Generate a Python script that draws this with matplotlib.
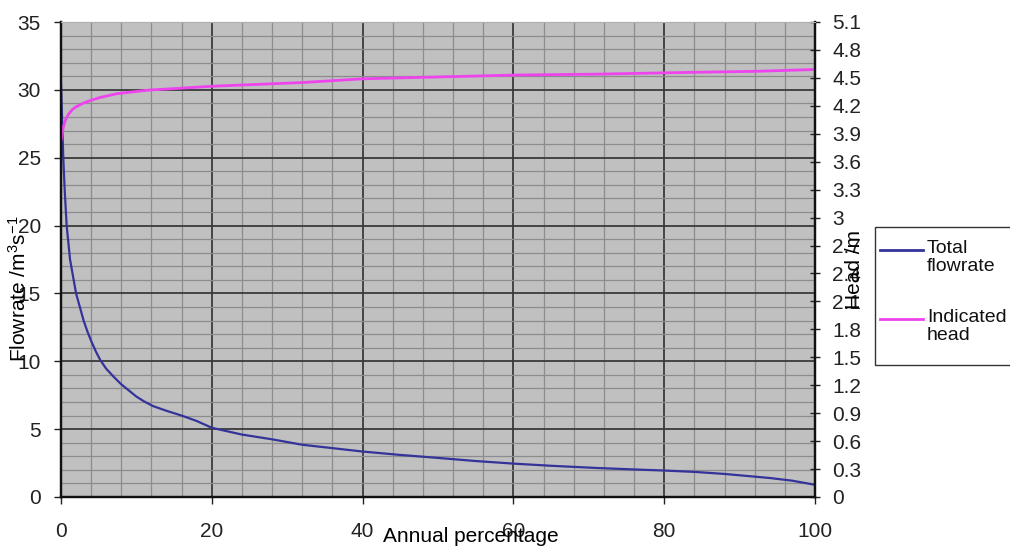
import matplotlib
matplotlib.use("Agg")
import matplotlib.pyplot as plt
import numpy as np
from matplotlib.ticker import MultipleLocator, FuncFormatter
from matplotlib.lines import Line2D
from matplotlib.patches import Rectangle

plt.rcParams['font.family'] = ['Liberation Sans', 'DejaVu Sans']
plt.rcParams['mathtext.default'] = 'regular'

# ---- data ----
flow_x = [0, 0.3, 0.5, 0.75, 1.2, 2, 2.5, 3, 3.5, 4, 4.6, 5.2, 6, 7, 8, 9, 10, 11,
          12.2, 14, 16, 18, 20, 24, 28, 32, 36, 40, 45, 50, 55, 60, 65, 71, 76, 80,
          84, 88, 91, 94, 97, 100]
flow_y = [30.5, 25, 22.5, 20, 17.5, 15, 14, 13, 12.2, 11.5, 10.75, 10.1, 9.45, 8.85, 8.3,
          7.85, 7.4, 7.05, 6.7, 6.35, 6.0, 5.6, 5.1, 4.6, 4.25, 3.85, 3.6, 3.35, 3.1,
          2.88, 2.65, 2.46, 2.3, 2.14, 2.03, 1.95, 1.85, 1.7, 1.55, 1.4, 1.2, 0.9]

head_x = [0, 0.3, 0.6, 1, 1.5, 2, 3, 4, 5.2, 7.4, 9.5, 11.8, 14, 16, 20, 26, 32, 40, 50,
          60, 71, 84, 92, 100]
head_y = [3.83, 3.97, 4.05, 4.11, 4.16, 4.19, 4.23, 4.26, 4.29, 4.33, 4.35, 4.37, 4.38,
          4.39, 4.41, 4.43, 4.45, 4.49, 4.51, 4.53, 4.54, 4.56, 4.57, 4.59]

left_ticks = np.arange(0, 36, 5)
right_ticks = np.round(np.arange(0, 5.11, 0.3), 1)
x_ticks = np.arange(0, 101, 20)

flow_color = '#33339a'
head_color = '#ee44ee'

fig = plt.figure(figsize=(10.10, 5.46), dpi=100)
ax = fig.add_axes([61/1010, 1-497/546, 754/1010, 475/546])
ax.set_facecolor('#c0c0c0')

ax.set_xlim(0, 100)
ax.set_ylim(0, 35)
ax.set_xticks(x_ticks)
ax.set_yticks(left_ticks)
ax.xaxis.set_minor_locator(MultipleLocator(4))
ax.yaxis.set_minor_locator(MultipleLocator(1))
ax.grid(which='major', color='#3a3a3a', linewidth=1.3)
ax.grid(which='minor', color='#8c8c8c', linewidth=0.9)
ax.set_axisbelow(True)
ax.tick_params(which='minor', length=0)
ax.tick_params(axis='both', which='major', labelsize=15, length=5, width=1, colors='#222222')
ax.tick_params(axis='x', pad=13)
ax.tick_params(axis='y', pad=9.5)

ax.plot(flow_x, flow_y, color=flow_color, linewidth=1.6)

ax2 = ax.twinx()
ax2.set_ylim(0, 5.1)
ax2.set_yticks(right_ticks)
ax2.yaxis.set_major_formatter(FuncFormatter(lambda v, p: '%g' % v))
ax2.tick_params(axis='y', labelsize=15, direction='inout', length=7, width=1, pad=9, colors='#222222')
ax2.plot(head_x, head_y, color=head_color, linewidth=2.0)

for a in (ax, ax2):
    for s in ('left', 'bottom', 'right'):
        a.spines[s].set_color('#111111')
        a.spines[s].set_linewidth(1.6)
    a.spines['top'].set_color('#b0b0b0')
    a.spines['top'].set_linewidth(0.8)

ax.set_xlabel('Annual percentage', fontsize=15)
ax.xaxis.set_label_coords(0.544, -0.084)
ax.xaxis.label.set_verticalalignment('center')

ax.set_ylabel('Flowrate /m$^3$s$^{-1}$', fontsize=15)
ax.yaxis.set_label_coords(-0.0565, 0.438)
ax.yaxis.label.set_verticalalignment('center')

ax2.set_ylabel('Head /m', fontsize=15, rotation=90)
ax2.yaxis.set_label_coords(1.052, 0.478)
ax2.yaxis.label.set_verticalalignment('center')

# legend drawn by hand: the line sits beside the first text row, as in Excel
W, H = 1010, 546
fig.patches.append(Rectangle((875/W, 1-365/H), 140/W, 138/H, transform=fig.transFigure,
                             facecolor='white', edgecolor='#333333', linewidth=1.0))
entries = [('Total\nflowrate', flow_color, 250), ('Indicated\nhead', head_color, 319)]
for label, col, yy in entries:
    fig.lines.append(Line2D([880/W, 923/W], [1-yy/H, 1-yy/H], transform=fig.transFigure,
                            color=col, linewidth=2.0))
    fig.text(927/W, 1-(yy-10)/H, label, fontsize=14, va='top', ha='left',
             linespacing=1.1, color='#111111')

fig.savefig('out.png', dpi=100)
